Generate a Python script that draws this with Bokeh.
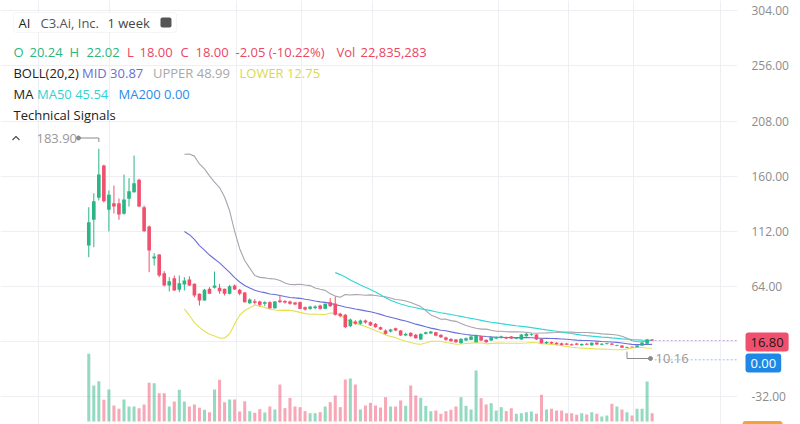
import numpy as np
import pandas as pd
from bokeh.plotting import figure
from bokeh.layouts import row
from bokeh.models import Range1d, FixedTicker, NumeralTickFormatter, Label, BoxAnnotation, Grid
from bokeh.embed import file_html
from bokeh.resources import INLINE

# ---------------- data (weekly candles, C3.ai) ----------------
opens = [99.6, 122.0, 141.1, 169.3, 130.7, 136.4, 136.4, 127.2, 140.2, 146.0,
         156.8, 132.9, 116.1, 88.2, 91.7, 75.4, 64.7, 71.1, 61.0, 65.6,
         70.0, 66.2, 57.5, 51.7, 61.8, 62.7, 62.7, 61.8, 57.5, 64.7,
         61.0, 58.6, 49.3, 51.0, 50.8, 48.8, 50.2, 44.9, 51.7, 51.2,
         50.8, 49.9, 50.2, 45.8, 44.4, 45.0, 47.3, 44.4, 50.2, 49.0,
         40.1, 39.2, 29.3, 33.4, 31.4, 34.2, 32.8, 31.4, 28.4, 25.5,
         24.6, 27.5, 25.5, 21.2, 23.5, 21.8, 17.7, 22.6, 23.0, 24.0,
         21.8, 19.5, 18.2, 17.7, 14.5, 16.8, 17.4, 15.3, 20.6, 17.4,
         16.8, 18.5, 19.0, 19.7, 20.3, 18.3, 17.7, 20.6, 21.6, 22.0,
         18.3, 14.5, 15.5, 14.8, 14.5, 14.2, 13.5, 14.2, 12.6, 13.9,
         12.6, 15.0, 13.2, 13.8, 14.3, 12.3, 12.5, 10.6, 11.4, 11.0,
         12.5, 14.0, 17.6]
highs = [132.9, 145.1, 183.9, 170.0, 147.5, 151.8, 140.5, 161.4, 158.2, 177.9,
         157.7, 134.4, 117.0, 92.9, 92.0, 77.2, 72.0, 73.4, 73.4, 72.0,
         72.8, 66.5, 57.8, 61.8, 63.2, 76.9, 66.2, 62.0, 65.3, 65.6,
         61.8, 59.0, 53.5, 53.0, 51.5, 51.0, 51.0, 51.2, 56.6, 52.0,
         51.5, 50.5, 50.8, 46.5, 47.0, 47.5, 48.0, 49.2, 53.7, 55.0,
         41.0, 40.0, 36.0, 34.5, 35.0, 35.0, 33.5, 32.0, 29.0, 26.5,
         27.0, 28.0, 26.0, 23.5, 24.0, 22.5, 23.0, 24.5, 25.2, 24.5,
         22.2, 20.2, 18.8, 18.2, 18.8, 19.5, 20.8, 22.0, 21.0, 17.8,
         20.2, 20.3, 21.0, 20.2, 20.8, 19.8, 22.5, 23.5, 23.2, 22.3,
         18.8, 16.2, 15.9, 15.3, 15.0, 14.8, 14.2, 14.8, 14.3, 14.5,
         15.2, 15.4, 14.5, 14.8, 14.6, 13.2, 12.8, 11.6, 11.8, 12.8,
         15.3, 18.2, 18.0]
lows = [89.4, 98.1, 138.8, 137.0, 111.8, 127.4, 122.0, 126.5, 133.5, 145.5,
        133.0, 111.5, 76.3, 82.1, 72.0, 64.0, 59.5, 60.0, 58.9, 60.4,
        64.2, 54.5, 47.3, 51.5, 57.3, 62.1, 57.5, 56.0, 56.9, 60.8,
        56.2, 49.9, 48.5, 48.2, 46.5, 46.8, 44.5, 44.5, 49.5, 49.0,
        48.0, 47.5, 44.0, 42.8, 43.5, 44.0, 43.8, 44.0, 46.0, 38.5,
        37.0, 27.5, 28.5, 30.5, 30.5, 31.5, 29.5, 28.0, 26.0, 22.0,
        23.8, 25.0, 20.8, 20.5, 20.0, 18.5, 17.2, 22.0, 22.5, 20.5,
        19.0, 16.5, 15.8, 14.8, 14.0, 16.3, 17.0, 15.0, 16.3, 14.8,
        16.3, 18.0, 18.5, 18.0, 18.0, 17.8, 17.3, 20.2, 20.9, 17.2,
        14.2, 13.8, 13.8, 13.2, 12.5, 12.9, 12.2, 12.8, 12.2, 12.8,
        12.3, 13.0, 12.6, 13.2, 12.8, 11.8, 10.4, 10.16, 10.6, 10.8,
        12.2, 13.8, 16.5]
closes = [119.9, 138.2, 161.4, 138.2, 143.7, 133.5, 126.6, 139.6, 146.9, 153.8,
          133.5, 112.0, 95.2, 90.0, 73.5, 64.7, 68.5, 60.4, 66.7, 69.1,
          64.7, 56.0, 51.7, 61.0, 57.5, 64.7, 59.8, 57.5, 64.1, 61.2,
          57.5, 50.2, 52.5, 49.6, 47.9, 50.2, 44.9, 50.8, 50.2, 49.9,
          48.8, 48.2, 44.4, 43.8, 46.4, 46.4, 44.4, 48.8, 46.7, 39.2,
          38.0, 28.4, 35.1, 31.4, 34.2, 32.5, 29.9, 28.4, 26.4, 22.6,
          26.4, 25.5, 21.2, 22.6, 20.6, 18.8, 22.6, 24.0, 24.6, 21.0,
          19.6, 17.4, 16.2, 15.3, 18.3, 18.8, 20.3, 21.2, 16.8, 15.3,
          19.7, 19.7, 20.3, 18.5, 18.5, 19.4, 22.0, 22.6, 22.3, 17.6,
          14.5, 15.5, 14.2, 13.5, 12.8, 13.2, 12.6, 13.1, 13.8, 13.1,
          14.8, 13.4, 14.0, 14.4, 13.2, 12.8, 10.6, 11.2, 10.9, 12.5,
          15.0, 17.6, 16.8]
volumes_m = [185.3, 98.6, 110.5, 59.3, 87.6, 43.8, 34.7, 60.3, 41.1, 41.1,
             36.5, 46.6, 105.9, 105.0, 77.6, 77.6, 41.1, 54.8, 86.7, 54.8,
             41.1, 46.6, 37.4, 32.0, 25.6, 87.6, 114.1, 53.0, 60.3, 60.3,
             27.4, 55.7, 28.3, 23.7, 33.8, 24.7, 41.1, 32.9, 101.3, 36.5,
             64.8, 41.1, 39.3, 28.3, 22.8, 22.8, 25.6, 41.1, 53.0, 71.2,
             39.3, 115.0, 117.8, 101.3, 32.9, 43.8, 51.1, 43.8, 38.3, 66.6,
             41.1, 41.1, 57.5, 42.9, 98.6, 71.2, 64.8, 42.9, 28.3, 30.1,
             21.0, 28.3, 32.0, 41.1, 66.6, 42.9, 32.9, 139.7, 63.9, 46.6,
             50.2, 30.1, 39.3, 28.3, 36.5, 21.0, 22.8, 25.6, 27.4, 21.0,
             73.0, 32.9, 34.7, 30.1, 30.1, 22.8, 22.8, 18.3, 22.8, 19.2,
             25.6, 21.0, 13.7, 16.4, 48.4, 41.1, 32.9, 25.6, 16.4, 34.7,
             34.7, 109.6, 22.84]

price_ticks = [-32, 64, 112, 160, 208, 256, 304]
grid_price_ticks = [-32, 16, 64, 112, 160, 208, 256, 304]
time_grid_weeks = [-10.0, 4.1, 29.3, 42.3, 56.4, 81.4, 95.3, 108.3, 125.5]
last_price = 16.80
ma200_last = 0.00

# ---------------- colours ----------------
UP = "#2ab584"
DOWN = "#f0506e"
C_MID = "#6a6ed8"
C_UPPER = "#aba3ab"
C_LOWER = "#e4e155"
C_MA50 = "#36d6d6"
C_MA200 = "#2b8ce8"
FONT = "Open Sans"

# ---------------- indicators ----------------
n = len(closes)
idx = np.arange(n)
s = pd.Series(closes, dtype=float)
mid = s.rolling(20).mean()
sd = s.rolling(20).std(ddof=0)
upper = mid + 2 * sd
lower = mid - 2 * sd
ma50 = s.rolling(50).mean()

o = np.array(opens); c = np.array(closes)
colors = [UP if cc >= oo else DOWN for oo, cc in zip(o, c)]

# ---------------- main figure ----------------
W, H = 800, 424
X0, X1 = -17.55, 128.97
Y0, Y1 = -56.36, 312.99
price_range = Range1d(Y0, Y1)
p = figure(width=W, height=H, x_range=Range1d(X0, X1), y_range=price_range,
           output_backend="svg", toolbar_location=None,
           x_axis_location=None, y_axis_location="right",
           min_border_left=0, min_border_right=63, min_border_top=0, min_border_bottom=0,
           outline_line_color=None, background_fill_color="white", border_fill_color="white")
p.extra_y_ranges = {"vol": Range1d(-8.2, 1153.1)}

# helpers: page pixel -> data (for annotations only)
def X(px):
    return (px - 88.3) / 5.03

def Y(py):
    return (359.3 - py) * 0.8711

ax = p.yaxis[0]
ax.ticker = FixedTicker(ticks=price_ticks)
ax.formatter = NumeralTickFormatter(format="0.00")
ax.axis_line_color = None
ax.major_tick_line_color = None
ax.minor_tick_line_color = None
ax.major_label_text_color = "#8c8c8c"
ax.major_label_text_font = FONT
ax.major_label_text_font_size = "12px"
ax.major_label_standoff = 8

p.ygrid.ticker = FixedTicker(ticks=grid_price_ticks)
p.ygrid.grid_line_color = "#efeff3"
p.xgrid.visible = False
p.add_layout(Grid(dimension=0, ticker=FixedTicker(ticks=time_grid_weeks),
                  grid_line_color="#efeff3"), "center")

# volume
p.vbar(x=idx, top=volumes_m, bottom=0, width=0.6, y_range_name="vol",
       fill_color=colors, fill_alpha=0.5, line_color=None)

# indicator lines
p.line(idx, upper, line_color=C_UPPER, line_width=1.1)
p.line(idx, lower, line_color=C_LOWER, line_width=1.1)
p.line(idx, mid, line_color=C_MID, line_width=1.1)
p.line(idx, ma50, line_color=C_MA50, line_width=1.2)

# candles
p.segment(x0=idx, y0=lows, x1=idx, y1=highs, line_color=colors, line_width=1)
p.vbar(x=idx, top=np.maximum(o, c), bottom=np.minimum(o, c), width=0.72,
       fill_color=colors, line_color=None)

# dotted price lines
p.segment(x0=[n - 0.5], y0=[last_price], x1=[X1 + 5], y1=[last_price],
          line_color="#c7a9d6", line_width=1, line_dash="2 2")
p.segment(x0=[n - 0.5], y0=[ma200_last], x1=[X1 + 5], y1=[ma200_last],
          line_color="#9fbde9", line_width=1, line_dash="2 2")

# max / min markers
hi_i = int(np.argmax(highs)); hi_v = highs[hi_i]
lo_i = int(np.argmin(lows)); lo_v = lows[lo_i]
p.line([X(78), hi_i, hi_i], [Y(137.5), Y(137.5), Y(141.5)], line_color="#8a8a8a", line_width=1)
p.scatter([X(78)], [Y(137.5)], size=4, color="#8a8a8a")
p.line([lo_i, lo_i, X(650)], [Y(351), Y(358), Y(358)], line_color="#8a8a8a", line_width=1)
p.scatter([X(650)], [Y(358)], size=4, color="#8a8a8a")
p.line([X(12), X(15.5), X(19)], [Y(139.5), Y(136), Y(139.5)], line_color="#555555", line_width=1.2)

def lab(text, px, py, color, size="13px", **kw):
    p.add_layout(Label(x=X(px), y=Y(py), text=text, text_color=color, text_font=FONT,
                       text_font_size=size, text_baseline="middle", text_align="left", **kw))

lab(f"{hi_v:.2f}", 36, 137.5, "#999999")
lab(f"{lo_v:.2f}", 655, 358, "#999999")

# header box
p.add_layout(BoxAnnotation(left=X(13), right=X(176), top=Y(12), bottom=Y(32),
                           fill_color="white", fill_alpha=1, line_color="#dddddd",
                           line_width=1, border_radius=3))
p.segment(x0=[X(102), X(153)], y0=[Y(12), Y(12)], x1=[X(102), X(153)], y1=[Y(32), Y(32)],
          line_color="#dddddd", line_width=1)
p.add_layout(BoxAnnotation(left=X(160), right=X(171), top=Y(17), bottom=Y(27),
                           fill_color="#555555", fill_alpha=1, line_color=None, border_radius=2))
p.segment(x0=[X(162.5), X(162.5)], y0=[Y(20), Y(23.5)], x1=[X(168.5), X(168.5)], y1=[Y(20), Y(23.5)],
          line_color="white", line_width=1.3)

lab("AI", 18, 22, "#222222")
lab("C3.Ai, Inc.", 40, 22, "#555555")
lab("1 week", 107, 22, "#444444")

GREEN_T = "#2bb57f"
RED_T = "#ec4664"
lab("O", 13, 51.5, GREEN_T); lab("20.24", 29, 51.5, GREEN_T)
lab("H", 69, 51.5, GREEN_T); lab("22.02", 86, 51.5, GREEN_T)
lab("L", 126.5, 51.5, RED_T); lab("18.00", 139, 51.5, RED_T)
lab("C", 180, 51.5, RED_T); lab("18.00", 195, 51.5, RED_T)
lab("-2.05 (-10.22%)", 235, 51.5, RED_T)
lab("Vol", 336, 51.5, RED_T); lab("22,835,283", 360, 51.5, RED_T)

lab("BOLL(20,2)", 13, 72.5, "#222222")
lab("MID 30.87", 81.5, 72.5, C_MID)
lab("UPPER 48.99", 152.5, 72.5, "#a8a8a8")
lab("LOWER 12.75", 239, 72.5, "#dcd84a")

lab("MA", 13, 93.5, "#222222")
lab("MA50 45.54", 36.5, 93.5, "#2fd3d3")
lab("MA200 0.00", 118, 93.5, C_MA200)

lab("Technical Signals", 13, 114.5, "#222222")

# ---------------- transparent overlay (same place, full-width frame) for the price tags ----------------
q = figure(width=W, height=H, x_range=Range1d(0, W), y_range=price_range,
           output_backend="svg", toolbar_location=None,
           x_axis_location=None, y_axis_location=None,
           min_border_left=0, min_border_right=0, min_border_top=0, min_border_bottom=0,
           outline_line_color=None, background_fill_alpha=0, border_fill_alpha=0)
q.margin = (0, 0, 0, -W)
q.xgrid.visible = False
q.ygrid.visible = False

q.quad(left=[742], right=[782], top=[Y(420.5)], bottom=[Y(430)],
       fill_color="#f2a43a", line_color=None, border_radius=3)
q.add_layout(Label(x=745, y=Y(341.5), text=f"{last_price:.2f}", text_color="#1a1a1a",
                   text_font=FONT, text_font_size="13px", text_baseline="middle", text_align="left",
                   background_fill_color=DOWN, background_fill_alpha=1, padding=5, border_radius=3))
q.add_layout(Label(x=745, y=Y(362.5), text=f"{ma200_last:.2f}", text_color="white",
                   text_font=FONT, text_font_size="13px", text_baseline="middle", text_align="left",
                   background_fill_color="#1f88e6", background_fill_alpha=1, padding=5, border_radius=3))

layout = row(p, q)
open("out.html", "w").write(file_html(layout, INLINE))
